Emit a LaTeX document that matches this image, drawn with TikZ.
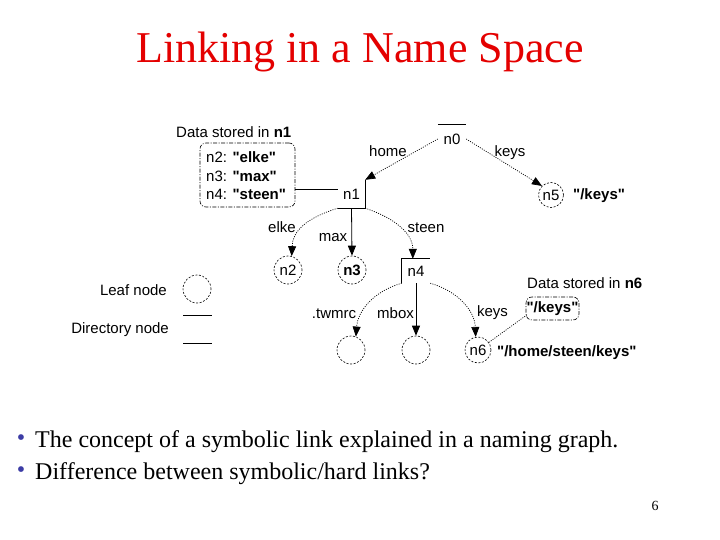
\documentclass[tikz,border=0pt]{standalone}
\usepackage{fontspec}
\setmainfont{Liberation Serif}
\newfontfamily\diag{Liberation Sans}
\usetikzlibrary{arrows.meta,calc}
\definecolor{titlered}{RGB}{228,0,0}
\definecolor{bulletblue}{RGB}{60,60,165}
\begin{document}
\begin{tikzpicture}[x=1pt,y=-1pt,
  lbl/.style={font=\diag\fontsize{15}{18}\selectfont, inner sep=0pt},
  leaf/.style={circle, draw, dash pattern=on 2pt off 1.6pt, line width=0.6pt, minimum size=28pt, inner sep=0pt, font=\diag\fontsize{15}{18}\selectfont},
  dirline/.style={line width=0.8pt},
  hard/.style={line width=0.8pt, -{Triangle[length=10pt,width=8pt]}},
  soft/.style={line width=0.7pt, dash pattern=on 1pt off 1.3pt, -{Triangle[length=10pt,width=8pt]}},
  softline/.style={line width=0.7pt, dash pattern=on 1pt off 1.3pt},
  databox/.style={draw, rounded corners=6pt, line width=0.6pt, dash pattern=on 4pt off 1.5pt on 1pt off 1.5pt, inner sep=0pt},
  bul/.style={font=\fontsize{24}{28}\selectfont, anchor=base west, inner sep=0pt},
  dot/.style={text=bulletblue, font=\fontsize{24}{28}\selectfont, inner sep=0pt}
]
\useasboundingbox (0,0) rectangle (720,540);
\fill[white] (0,0) rectangle (720,540);

% title
\node[font=\fontsize{44}{50}\selectfont, text=titlered, anchor=base, inner sep=0pt] (title) at (360,63) {Linking in a Name Space};

% data of n1
\node[lbl, anchor=base west] (d1) at (176,138) {Data stored in \textbf{n1}};
\node[databox, minimum width=95pt, minimum height=64pt] (box1) at (247.5,175) {};
\node[lbl, anchor=base west] (t2) at (206,163) {n2: \textbf{"elke"}};
\node[lbl, anchor=base west] (t3) at (206,182) {n3: \textbf{"max"}};
\node[lbl, anchor=base west] (t4) at (206,200) {n4: \textbf{"steen"}};

% n0
\node[lbl, minimum width=28pt, minimum height=28pt] (n0) at (452,139) {n0};
\draw[dirline] (n0.north west) -- (n0.north east);
\node[lbl, anchor=base] (lhome) at (388,157) {home};
\node[lbl, anchor=base] (lkeys) at (510,157) {keys};

% n1
\node[lbl, minimum width=27pt, minimum height=28pt] (n1) at (351.5,194) {n1};
\draw[dirline] (n1.north east) -- (n1.south east) -- (n1.south west);
\coordinate (y189) at (0,189);
\draw[dirline] (box1.east |- y189) -- (n1.west |- y189);

% n5
\node[leaf, minimum size=25pt] (n5) at (551,195) {n5};
\node[lbl, anchor=base west] (v5) at (573,200) {\textbf{"/keys"}};

\draw[soft] (n0.west) -- (n1.north east);
\draw[soft] (n0.east) -- (n5.north west);

% level n2 n3 n4
\node[leaf] (n2) at (288,270) {n2};
\node[leaf, font=\diag\bfseries\fontsize{15}{18}\selectfont] (n3) at (352,270) {n3};
\node[lbl, minimum width=28pt, minimum height=24pt] (n4) at (416,271) {n4};
\draw[dirline] (n4.south west) -- (n4.north west) -- (n4.north east);
\coordinate (n4top) at ($(n4.north west)+(11,0)$);

\node[lbl, anchor=base] (lelke) at (282,233) {elke};
\node[lbl, anchor=base] (lmax) at (333,241) {max};
\node[lbl, anchor=base] (lsteen) at (426,233) {steen};

\draw[soft] (n1.south west) .. controls ($(n1.south west)+(-32,10)$) and ($(n2.75)+(1,-25)$) .. (n2.75);
\draw[hard] (n1.south) -- (n3.north);
\draw[soft] (n1.south east) .. controls ($(n1.south east)+(30,10)$) and ($(n4top)+(0,-25)$) .. (n4top);

% level under n4
\node[leaf] (c1) at (351,350) {};
\node[leaf] (c2) at (416,350) {};
\node[leaf, minimum size=26pt] (n6) at (478,350) {n6};

\node[lbl, anchor=base] (ltw) at (334,318) {.twmrc};
\node[lbl, anchor=base] (lmbox) at (395.5,318) {mbox};
\node[lbl, anchor=base] (lkeys2) at (492.5,316) {keys};

\draw[soft] (n4.south west) .. controls ($(n4.south west)+(-28,8)$) and ($(c1.70)+(2,-26)$) .. (c1.70);
\draw[hard] (n4.south) -- (c2.north);
\draw[soft] (n4.south east) .. controls ($(n4.south east)+(28,8)$) and ($(n6.100)+(-1,-26)$) .. (n6.100);

\node[lbl, anchor=base west] (v6) at (497,356) {\textbf{"/home/steen/keys"}};

% data of n6
\node[lbl, anchor=base west] (d6) at (527,288) {Data stored in \textbf{n6}};
\node[databox, minimum width=53pt, minimum height=23pt, font=\diag\fontsize{15}{18}\selectfont] (box6) at (552.5,308.5) {\textbf{"/keys"}};
\draw[softline] (n6.35) -- ($(box6.south west)+(2,-6)$);

% legend
\node[lbl, anchor=base east] (leg1) at (167,295) {Leaf node};
\node[leaf] (legc) at (197,289) {};
\node[lbl, anchor=base east] (leg2) at (169,333) {Directory node};
\draw[dirline] (183,315) -- (212,315);
\draw[dirline] (183,343) -- (212,343);

% bullets
\node[dot] (bu1) at (21,440) {\textbullet};
\node[dot] (bu2) at (21,472) {\textbullet};
\node[bul] (b1) at (35,447) {The concept of a symbolic link explained in a naming graph.};
\node[bul] (b2) at (35,479) {Difference between symbolic/hard links?};

\node[font=\fontsize{14}{16}\selectfont, anchor=base, inner sep=0pt] (pg) at (655,510) {6};
\end{tikzpicture}
\end{document}
